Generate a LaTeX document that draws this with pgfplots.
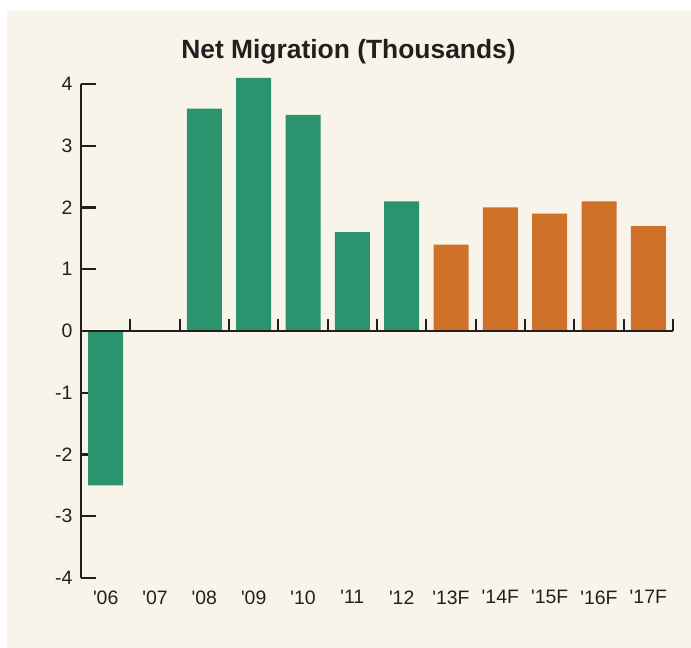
\documentclass[border=0pt]{standalone}
\usepackage{pgfplots}
\pgfplotsset{compat=1.18}
\usepackage{fontspec}
\setmainfont{Liberation Sans}[Ligatures=TeXOff]
\definecolor{bg}{HTML}{F8F4E9}
\definecolor{grn}{HTML}{2C936F}
\definecolor{org}{HTML}{D07129}
\definecolor{ink}{HTML}{231F20}
\begin{document}
\begin{tikzpicture}
\path[use as bounding box] (0bp,0bp) rectangle (691bp,648bp);
\fill[white] (0bp,0bp) rectangle (691bp,648bp);
\fill[bg] (7bp,0bp) rectangle (691bp,637bp);
\node[anchor=base, font=\fontsize{26.5}{30}\selectfont\bfseries, text=ink, inner sep=0pt] at (348.5bp,589bp) {Net Migration (Thousands)};
\begin{axis}[
  at={(81bp,70bp)}, anchor=south west,
  scale only axis, width=592bp, height=494bp,
  xmin=0, xmax=12, ymin=-4, ymax=4,
  clip=false,
  axis y line*=left, axis x line*=bottom,
  x axis line style={draw=none},
  y axis line style={line width=2.2bp, draw=ink, -},
  ytick={-4,-3,-2,-1,0,1,2,3,4},
  yticklabels={-4,-3,-2,-1,0,1,2,3,4},
  tick style={line width=2.2bp, draw=ink},
  major tick style={line width=2.2bp, draw=ink},
  major tick length=15bp,
  tick align=inside,
  xtick={0.5,1.5,2.5,3.5,4.5,5.5,6.5,7.5,8.5,9.5,10.5,11.5},
  xticklabels={'06,'07,'08,'09,'10,'11,'12,'13F,'14F,'15F,'16F,'17F},
  xtick style={draw=none},
  tick label style={font=\fontsize{19.5}{22}\selectfont, text=ink},
  yticklabel style={xshift=-5bp},
  xticklabel style={yshift=-9bp},
]
\addplot[ybar, bar width=35bp, bar shift=0pt, fill=grn, draw=none] coordinates {(0.5,-2.5) (1.5,0) (2.5,3.6) (3.5,4.1) (4.5,3.5) (5.5,1.6) (6.5,2.1)};
\addplot[ybar, bar width=35bp, bar shift=0pt, fill=org, draw=none] coordinates {(7.5,1.4) (8.5,2.0) (9.5,1.9) (10.5,2.1) (11.5,1.7)};
\addplot[sharp plot, line width=2.2bp, draw=ink, mark=none] coordinates {(0,0) (12,0)};
\addplot[ycomb, line width=2.2bp, draw=ink, mark=none] coordinates {(1,0.2) (2,0.2) (3,0.2) (4,0.2) (5,0.2) (6,0.2) (7,0.2) (8,0.2) (9,0.2) (10,0.2) (11,0.2) (12,0.2)};
\end{axis}
\end{tikzpicture}
\end{document}
